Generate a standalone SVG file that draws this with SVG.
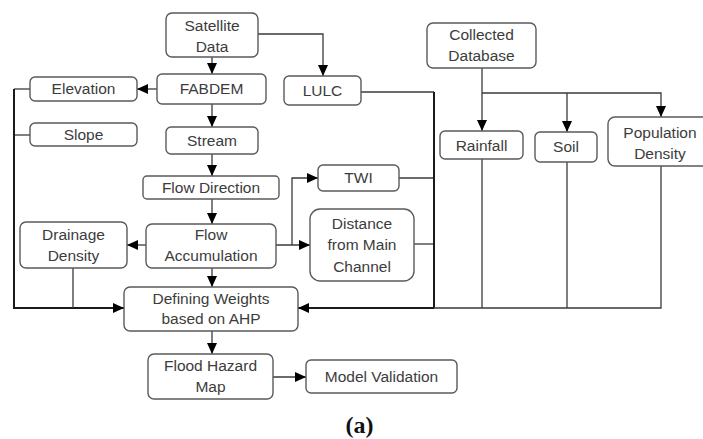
<svg xmlns="http://www.w3.org/2000/svg" width="703" height="439" viewBox="0 0 703 439">
<style>
.box{fill:#fff;stroke:#5a5a5a;stroke-width:1.4}
.t{font-family:"Liberation Sans",Arial,sans-serif;font-size:15.5px;fill:#3c3c3c;text-anchor:middle}
.c{fill:none;stroke:#3a3a3a;stroke-width:1.3}
.ck{fill:none;stroke:#1a1a1a;stroke-width:2}
</style>
<defs>
<marker id="ah" markerUnits="userSpaceOnUse" markerWidth="11" markerHeight="10" refX="11" refY="5" orient="auto"><path d="M0,0 L11,5 L0,10 z" fill="#000"/></marker>
</defs>
<rect width="703" height="439" fill="#fff"/>
<g id="connectors">
<path class="c" d="M212,57 V74" marker-end="url(#ah)"/>
<path class="c" d="M258,34 H323 V76" marker-end="url(#ah)"/>
<path class="c" d="M157,89 H137" marker-end="url(#ah)"/>
<path class="c" d="M212,104 V127" marker-end="url(#ah)"/>
<path class="c" d="M212,154 V176" marker-end="url(#ah)"/>
<path class="c" d="M212,199 V224" marker-end="url(#ah)"/>
<path class="c" d="M146,245 H127" marker-end="url(#ah)"/>
<path class="c" d="M276,245 H310" marker-end="url(#ah)"/>
<path class="c" d="M292,245 V178 H318" marker-end="url(#ah)"/>
<path class="c" d="M212,268 V287" marker-end="url(#ah)"/>
<path class="c" d="M30,89 H14"/>
<path class="c" d="M30,135 H14"/>
<path class="ck" d="M14,89 V308 H124" marker-end="url(#ah)"/>
<path class="c" d="M73,268 V308"/>
<path class="c" d="M361,92 H434"/>
<path class="c" d="M399,178 H434"/>
<path class="c" d="M414,244 H434"/>
<path class="ck" d="M434,92 V308"/>
<path class="c" d="M482,159 V308"/>
<path class="c" d="M567,162 V308"/>
<path class="c" d="M661,166 V308 H434"/>
<path class="ck" d="M434,308 H298" marker-end="url(#ah)"/>
<path class="c" d="M482,68 V131" marker-end="url(#ah)"/>
<path class="c" d="M482,93 H661 V117" marker-end="url(#ah)"/>
<path class="c" d="M567,93 V132" marker-end="url(#ah)"/>
<path class="c" d="M212,331 V354" marker-end="url(#ah)"/>
<path class="c" d="M273,377 H306" marker-end="url(#ah)"/>
</g>
<g id="satellite"><rect class="box" x="166" y="13" width="92" height="44" rx="6"/><text class="t" x="212" y="31">Satellite</text><text class="t" x="212" y="52">Data</text></g>
<g id="fabdem"><rect class="box" x="157" y="74" width="109" height="30" rx="5"/><text class="t" x="211.5" y="94">FABDEM</text></g>
<g id="lulc"><rect class="box" x="284" y="76" width="77" height="29" rx="5"/><text class="t" x="322.5" y="96">LULC</text></g>
<g id="elevation"><rect class="box" x="30" y="77" width="107" height="24" rx="5"/><text class="t" x="83.5" y="94">Elevation</text></g>
<g id="slope"><rect class="box" x="30" y="123" width="107" height="23" rx="5"/><text class="t" x="83.5" y="140">Slope</text></g>
<g id="stream"><rect class="box" x="166" y="127" width="92" height="27" rx="5"/><text class="t" x="212" y="146">Stream</text></g>
<g id="flowdir"><rect class="box" x="143" y="176" width="136" height="23" rx="4"/><text class="t" x="211" y="193">Flow Direction</text></g>
<g id="twi"><rect class="box" x="318" y="165" width="81" height="26" rx="5"/><text class="t" x="358.5" y="183">TWI</text></g>
<g id="distance"><rect class="box" x="310" y="209" width="104" height="72" rx="10"/><text class="t" x="362" y="229">Distance</text><text class="t" x="362" y="250">from Main</text><text class="t" x="362" y="272">Channel</text></g>
<g id="flowacc"><rect class="box" x="146" y="224" width="130" height="44" rx="6"/><text class="t" x="211" y="240">Flow</text><text class="t" x="211" y="261">Accumulation</text></g>
<g id="drainage"><rect class="box" x="20" y="222" width="107" height="46" rx="6"/><text class="t" x="73.5" y="240">Drainage</text><text class="t" x="73.5" y="261">Density</text></g>
<g id="weights"><rect class="box" x="124" y="287" width="174" height="44" rx="6"/><text class="t" x="211" y="304">Defining Weights</text><text class="t" x="211" y="324">based on AHP</text></g>
<g id="flood"><rect class="box" x="148" y="354" width="125" height="45" rx="6"/><text class="t" x="210.5" y="371">Flood Hazard</text><text class="t" x="210.5" y="392">Map</text></g>
<g id="validation"><rect class="box" x="306" y="360" width="151" height="33" rx="5"/><text class="t" x="381.5" y="382">Model Validation</text></g>
<g id="collected"><rect class="box" x="427" y="23" width="109" height="45" rx="6"/><text class="t" x="481.5" y="40">Collected</text><text class="t" x="481.5" y="61">Database</text></g>
<g id="rainfall"><rect class="box" x="440" y="131" width="83" height="28" rx="5"/><text class="t" x="481.5" y="151">Rainfall</text></g>
<g id="soil"><rect class="box" x="535" y="132" width="62" height="30" rx="5"/><text class="t" x="566" y="152">Soil</text></g>
<g id="population"><rect class="box" x="608" y="117" width="110" height="49" rx="7"/><text class="t" x="660" y="138">Population</text><text class="t" x="660" y="159">Density</text></g>
<text x="359.5" y="433" font-family="'Liberation Serif','Times New Roman',serif" font-weight="bold" font-size="24" fill="#111" text-anchor="middle">(a)</text>
</svg>
